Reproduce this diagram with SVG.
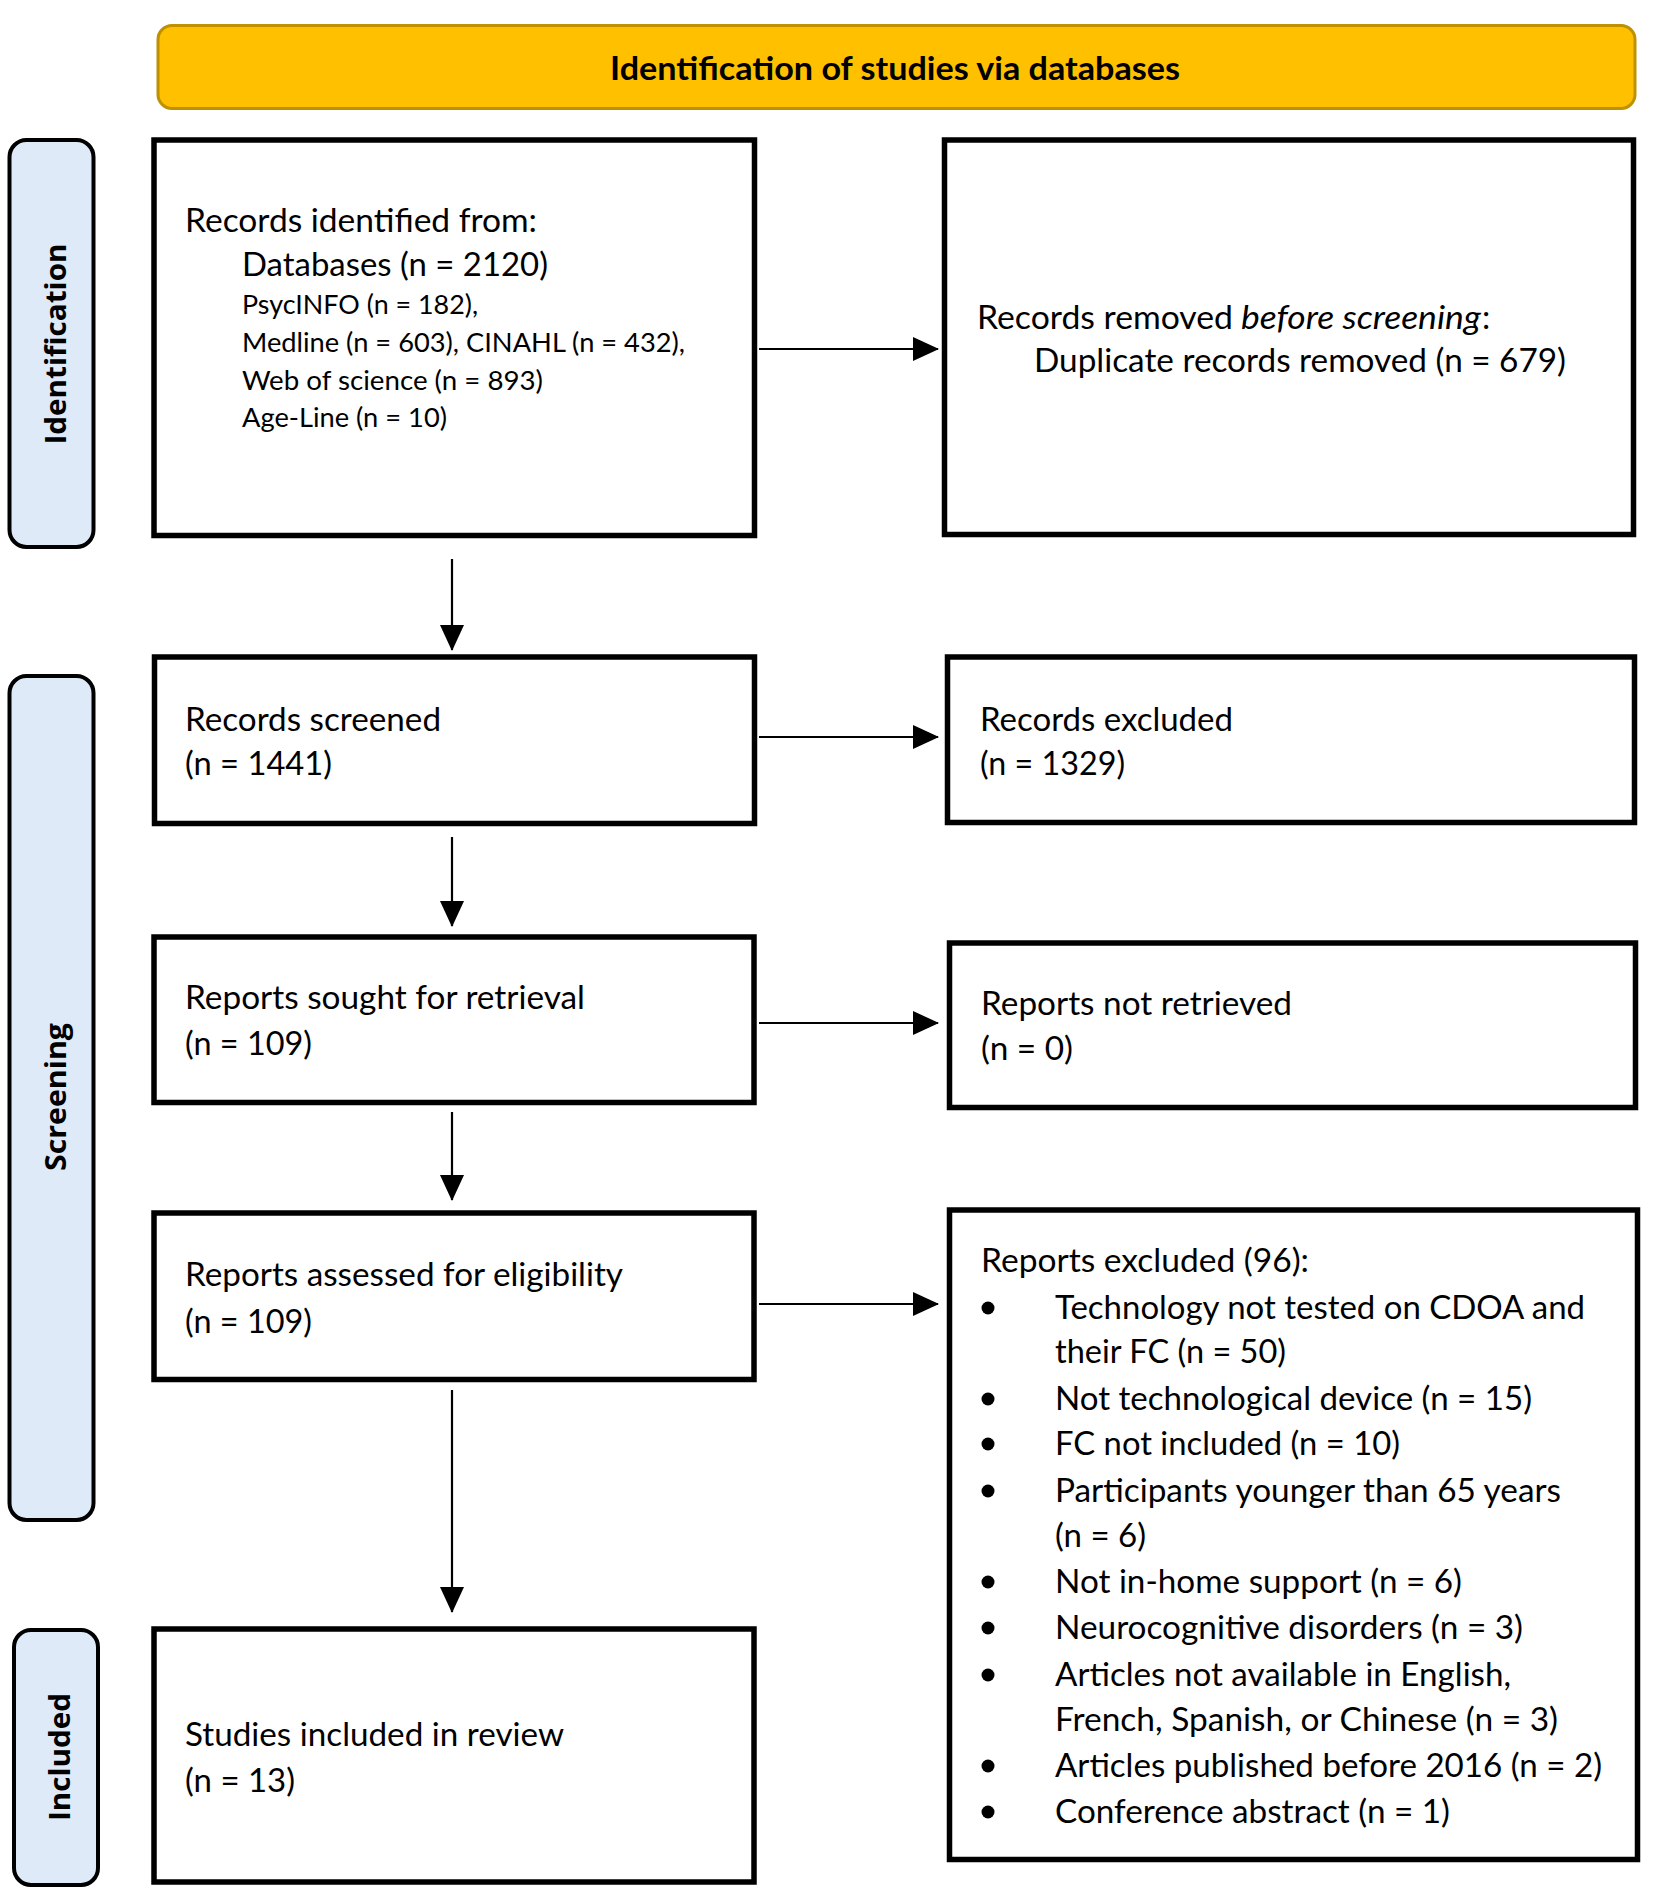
<svg xmlns="http://www.w3.org/2000/svg" width="1654" height="1893" viewBox="0 0 1654 1893">
<style>
.bg{fill:#ffffff}
.box{fill:#ffffff;stroke:#000;stroke-width:5.5}
.side{fill:#DEEAF8;stroke:#000;stroke-width:4}
.head{fill:#FFC000;stroke:#BF9000;stroke-width:3}
.t{font-family:Lato,"Liberation Sans",sans-serif;font-size:33px;fill:#000}
.s{font-family:Lato,"Liberation Sans",sans-serif;font-size:27.5px;fill:#000}
.i{font-style:italic}
.hb{font-family:Lato,"Liberation Sans",sans-serif;font-size:33px;font-weight:bold;fill:#000}
.lab{font-family:"Open Sans","DejaVu Sans",sans-serif;font-size:29px;font-weight:bold;fill:#000}
.con{stroke:#000;stroke-width:2.2;fill:none;marker-end:url(#ah)}
.dot{fill:#000}
</style>
<defs>
<marker id="ah" markerUnits="userSpaceOnUse" markerWidth="26" markerHeight="24" refX="25" refY="12" orient="auto">
<path d="M0,0 L26,12 L0,24 Z" fill="#000"/>
</marker>
</defs>
<rect class="bg" x="0" y="0" width="1654" height="1893"/>

<g id="header">
<rect class="head" x="158" y="25.5" width="1477" height="83" rx="14"/>
<text class="hb" x="895" y="80" text-anchor="middle" textLength="570" lengthAdjust="spacingAndGlyphs">Identification of studies via databases</text>
</g>

<g id="label-identification">
<rect class="side" x="9.5" y="140" width="84" height="407" rx="17"/>
<text class="lab" x="66" y="344" text-anchor="middle" transform="rotate(-90 66 344)" textLength="201" lengthAdjust="spacingAndGlyphs">Identification</text>
</g>
<g id="label-screening">
<rect class="side" x="9.5" y="676" width="84" height="844" rx="17"/>
<text class="lab" x="66" y="1097" text-anchor="middle" transform="rotate(-90 66 1097)" textLength="148" lengthAdjust="spacingAndGlyphs">Screening</text>
</g>
<g id="label-included">
<rect class="side" x="14" y="1630" width="84" height="255" rx="17"/>
<text class="lab" x="70" y="1757" text-anchor="middle" transform="rotate(-90 70 1757)" textLength="128" lengthAdjust="spacingAndGlyphs">Included</text>
</g>

<g id="records-identified">
<rect class="box" x="154" y="140" width="600.5" height="395.5"/>
<text class="t" x="185" y="232" textLength="352" lengthAdjust="spacingAndGlyphs">Records identified from:</text>
<text class="t" x="242" y="276" textLength="306" lengthAdjust="spacingAndGlyphs">Databases (n = 2120)</text>
<text class="s" x="242" y="314" textLength="236" lengthAdjust="spacingAndGlyphs">PsycINFO (n = 182),</text>
<text class="s" x="242" y="352" textLength="443" lengthAdjust="spacingAndGlyphs">Medline (n = 603), CINAHL (n = 432),</text>
<text class="s" x="242" y="390" textLength="301" lengthAdjust="spacingAndGlyphs">Web of science (n = 893)</text>
<text class="s" x="242" y="427" textLength="205" lengthAdjust="spacingAndGlyphs">Age-Line (n = 10)</text>
</g>

<g id="records-removed">
<rect class="box" x="944.5" y="140" width="689" height="394.5"/>
<text class="t" x="977" y="329" textLength="256" lengthAdjust="spacingAndGlyphs">Records removed</text>
<text class="t i" x="1241" y="329" textLength="240" lengthAdjust="spacingAndGlyphs">before screening</text>
<text class="t" x="1482" y="329">:</text>
<text class="t" x="1034" y="372" textLength="532" lengthAdjust="spacingAndGlyphs">Duplicate records removed (n = 679)</text>
</g>

<g id="records-screened">
<rect class="box" x="154.5" y="657" width="600" height="166.5"/>
<text class="t" x="185" y="731" textLength="256" lengthAdjust="spacingAndGlyphs">Records screened</text>
<text class="t" x="185" y="775" textLength="147" lengthAdjust="spacingAndGlyphs">(n = 1441)</text>
</g>

<g id="records-excluded">
<rect class="box" x="947.5" y="657" width="687" height="165.5"/>
<text class="t" x="980" y="731" textLength="253" lengthAdjust="spacingAndGlyphs">Records excluded</text>
<text class="t" x="980" y="775" textLength="145" lengthAdjust="spacingAndGlyphs">(n = 1329)</text>
</g>

<g id="reports-sought">
<rect class="box" x="154" y="937" width="600" height="165.5"/>
<text class="t" x="185" y="1009" textLength="400" lengthAdjust="spacingAndGlyphs">Reports sought for retrieval</text>
<text class="t" x="185" y="1055" textLength="127" lengthAdjust="spacingAndGlyphs">(n = 109)</text>
</g>

<g id="reports-not-retrieved">
<rect class="box" x="949.5" y="943" width="686" height="164.5"/>
<text class="t" x="981" y="1015" textLength="311" lengthAdjust="spacingAndGlyphs">Reports not retrieved</text>
<text class="t" x="981" y="1060" textLength="92" lengthAdjust="spacingAndGlyphs">(n = 0)</text>
</g>

<g id="reports-assessed">
<rect class="box" x="154" y="1213" width="600" height="166.5"/>
<text class="t" x="185" y="1286" textLength="438" lengthAdjust="spacingAndGlyphs">Reports assessed for eligibility</text>
<text class="t" x="185" y="1333" textLength="127" lengthAdjust="spacingAndGlyphs">(n = 109)</text>
</g>

<g id="reports-excluded">
<rect class="box" x="949.5" y="1210" width="688" height="649.5"/>
<text class="t" x="981" y="1272" textLength="328" lengthAdjust="spacingAndGlyphs">Reports excluded (96):</text>
<circle class="dot" cx="988" cy="1308" r="6.5"/>
<text class="t" x="1055" y="1319" textLength="530" lengthAdjust="spacingAndGlyphs">Technology not tested on CDOA and</text>
<text class="t" x="1055" y="1363" textLength="231" lengthAdjust="spacingAndGlyphs">their FC (n = 50)</text>
<circle class="dot" cx="988" cy="1399" r="6.5"/>
<text class="t" x="1055" y="1410" textLength="477" lengthAdjust="spacingAndGlyphs">Not technological device (n = 15)</text>
<circle class="dot" cx="988" cy="1444" r="6.5"/>
<text class="t" x="1055" y="1455" textLength="345" lengthAdjust="spacingAndGlyphs">FC not included (n = 10)</text>
<circle class="dot" cx="988" cy="1491" r="6.5"/>
<text class="t" x="1055" y="1502" textLength="506" lengthAdjust="spacingAndGlyphs">Participants younger than 65 years</text>
<text class="t" x="1055" y="1547" textLength="91" lengthAdjust="spacingAndGlyphs">(n = 6)</text>
<circle class="dot" cx="988" cy="1582" r="6.5"/>
<text class="t" x="1055" y="1593" textLength="407" lengthAdjust="spacingAndGlyphs">Not in-home support (n = 6)</text>
<circle class="dot" cx="988" cy="1628" r="6.5"/>
<text class="t" x="1055" y="1639" textLength="468" lengthAdjust="spacingAndGlyphs">Neurocognitive disorders (n = 3)</text>
<circle class="dot" cx="988" cy="1675" r="6.5"/>
<text class="t" x="1055" y="1686" textLength="456" lengthAdjust="spacingAndGlyphs">Articles not available in English,</text>
<text class="t" x="1055" y="1731" textLength="503" lengthAdjust="spacingAndGlyphs">French, Spanish, or Chinese (n = 3)</text>
<circle class="dot" cx="988" cy="1766" r="6.5"/>
<text class="t" x="1055" y="1777" textLength="547" lengthAdjust="spacingAndGlyphs">Articles published before 2016 (n = 2)</text>
<circle class="dot" cx="988" cy="1812" r="6.5"/>
<text class="t" x="1055" y="1823" textLength="395" lengthAdjust="spacingAndGlyphs">Conference abstract (n = 1)</text>
</g>

<g id="studies-included">
<rect class="box" x="154" y="1629" width="600" height="253"/>
<text class="t" x="185" y="1746" textLength="379" lengthAdjust="spacingAndGlyphs">Studies included in review</text>
<text class="t" x="185" y="1792" textLength="110" lengthAdjust="spacingAndGlyphs">(n = 13)</text>
</g>

<g id="connectors">
<line class="con" x1="759" y1="349" x2="938" y2="349"/>
<line class="con" x1="759" y1="737" x2="938" y2="737"/>
<line class="con" x1="759" y1="1023" x2="938" y2="1023"/>
<line class="con" x1="759" y1="1304" x2="938" y2="1304"/>
<line class="con" x1="452" y1="559" x2="452" y2="650"/>
<line class="con" x1="452" y1="837" x2="452" y2="926"/>
<line class="con" x1="452" y1="1112" x2="452" y2="1200"/>
<line class="con" x1="452" y1="1390" x2="452" y2="1612"/>
</g>
</svg>
